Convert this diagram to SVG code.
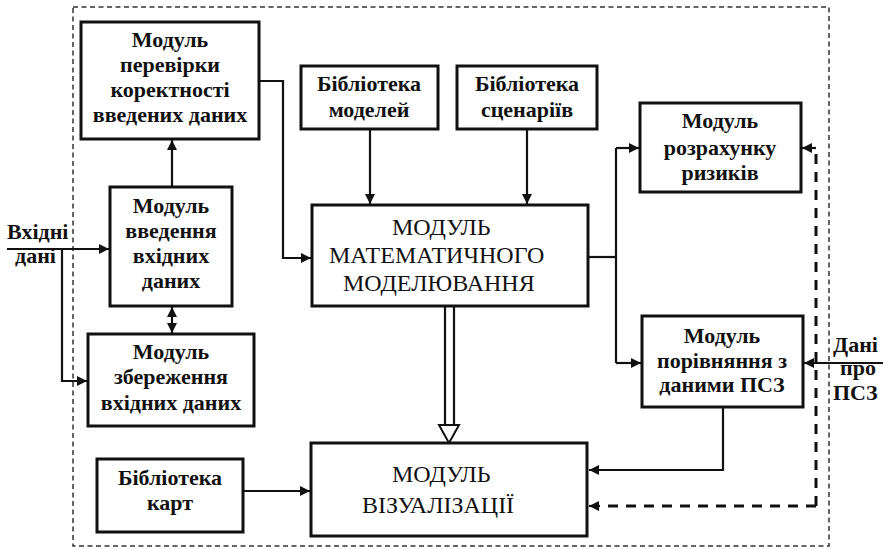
<svg xmlns="http://www.w3.org/2000/svg" width="883" height="549" viewBox="0 0 883 549">
<defs>
<marker id="ah" viewBox="0 0 10 10" refX="10" refY="5" markerWidth="11" markerHeight="10" markerUnits="userSpaceOnUse" orient="auto-start-reverse">
<path d="M0,0 L10,5 L0,10 Z" fill="#111"/>
</marker>
</defs>
<rect width="883" height="549" fill="#fff"/>
<rect x="73" y="7" width="756" height="539" fill="none" stroke="#333" stroke-width="1.5" stroke-dasharray="5 3.5"/>
<g id="connectors" fill="none" stroke="#111" stroke-width="2.2">
<path d="M172,187 V140" marker-end="url(#ah)"/>
<path d="M259,81 H283 V258 H311" marker-end="url(#ah)"/>
<path d="M7,249 H109" marker-end="url(#ah)"/>
<path d="M62,249 V381 H87" marker-end="url(#ah)"/>
<path d="M172,307 V333" marker-start="url(#ah)" marker-end="url(#ah)"/>
<path d="M370,129 V204" marker-end="url(#ah)"/>
<path d="M527,129 V204" marker-end="url(#ah)"/>
<path d="M588,257 H616"/>
<path d="M616,148 V363"/>
<path d="M616,148 H639" marker-end="url(#ah)"/>
<path d="M616,363 H641" marker-end="url(#ah)"/>
<path d="M883,363 H804" marker-end="url(#ah)"/>
<path d="M723,407 V470 H589" marker-end="url(#ah)"/>
<path d="M243,491 H310" marker-end="url(#ah)"/>
<path d="M816,506 V148" stroke-width="3" stroke-dasharray="10 8"/>
<path d="M816,148 H802" marker-end="url(#ah)"/>
<path d="M816,506 H600" stroke-width="3" stroke-dasharray="10 8"/>
<path d="M600,506 H589" marker-end="url(#ah)"/>
<path d="M445,307 V425 M454,307 V425"/>
<path d="M439,425 H459 L449,443 Z" fill="#fff" stroke-width="2"/>
</g>
<g fill="#fff" stroke="#111" stroke-width="3">
<rect id="check-box" x="81" y="22" width="178" height="117"/>
<rect id="input-box" x="110" y="187" width="122" height="119"/>
<rect id="store-box" x="88" y="334" width="166" height="92"/>
<rect id="libmodels-box" x="301" y="66" width="137" height="63"/>
<rect id="libscen-box" x="457" y="66" width="140" height="63"/>
<rect id="math-box" x="312" y="205" width="276" height="101"/>
<rect id="risk-box" x="640" y="103" width="161" height="89"/>
<rect id="compare-box" x="642" y="316" width="161" height="91"/>
<rect id="libmaps-box" x="97" y="459" width="146" height="73"/>
<rect id="vis-box" x="311" y="443" width="276" height="93"/>
</g>
<g font-family="Liberation Serif" font-size="22" font-weight="bold" fill="#111" text-anchor="middle">
<g id="check">
<text x="170" y="47">Модуль</text>
<text x="170" y="72">перевірки</text>
<text x="170" y="97">коректності</text>
<text x="170" y="122">введених даних</text>
</g>
<g id="input">
<text x="171" y="213">Модуль</text>
<text x="171" y="238">введення</text>
<text x="171" y="263">вхідних</text>
<text x="171" y="288">даних</text>
</g>
<g id="store">
<text x="171" y="359">Модуль</text>
<text x="171" y="384">збереження</text>
<text x="171" y="410">вхідних даних</text>
</g>
<g id="libmodels">
<text x="369" y="91">Бібліотека</text>
<text x="369" y="117">моделей</text>
</g>
<g id="libscen">
<text x="527" y="91">Бібліотека</text>
<text x="527" y="117">сценаріїв</text>
</g>
<g id="risk">
<text x="720" y="128">Модуль</text>
<text x="720" y="155">розрахунку</text>
<text x="720" y="180">ризиків</text>
</g>
<g id="compare">
<text x="722" y="343">Модуль</text>
<text x="722" y="368">порівняння з</text>
<text x="722" y="392">даними ПСЗ</text>
</g>
<g id="libmaps">
<text x="170" y="485">Бібліотека</text>
<text x="170" y="510">карт</text>
</g>
</g>
<g font-size="22" font-weight="bold" fill="#111">
<g id="inlabel">
<text font-family="Liberation Serif" x="7" y="239">Вхідні</text>
<text font-family="Liberation Serif" x="15" y="263">дані</text>
</g>
<g id="psz">
<text font-family="Liberation Serif" x="833" y="352">Дані</text>
<text font-family="Liberation Serif" x="840" y="375">про</text>
<text font-family="Liberation Serif" x="833" y="400">ПСЗ</text>
</g>
</g>
<g font-size="24" fill="#111">
<g id="math">
<text font-family="Liberation Serif" x="392" y="235">МОДУЛЬ</text>
<text font-family="Liberation Serif" x="329" y="263">МАТЕМАТИЧНОГО</text>
<text font-family="Liberation Serif" x="343" y="291">МОДЕЛЮВАННЯ</text>
</g>
<g id="vis">
<text font-family="Liberation Serif" x="392" y="482">МОДУЛЬ</text>
<text font-family="Liberation Serif" x="362" y="513">ВІЗУАЛІЗАЦІЇ</text>
</g>
</g>
</svg>
